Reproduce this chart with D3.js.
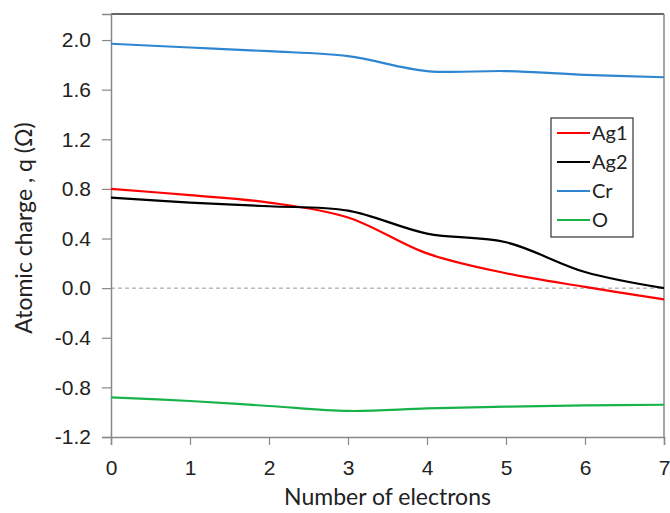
<!DOCTYPE html>
<html>
<head>
<meta charset="utf-8">
<script src="https://cdn.jsdelivr.net/npm/d3@7"></script>
<style>
  body { margin: 0; background: #fff; }
  svg { font-family: Lato, "Open Sans", sans-serif; }
</style>
</head>
<body>
<div id="chart"></div>
<script>
// Data
const electrons = [0, 1, 2, 3, 4, 5, 6, 7];
const ag1 = [0.80, 0.75, 0.69, 0.57, 0.28, 0.12, 0.01, -0.09];
const ag2 = [0.73, 0.69, 0.66, 0.625, 0.44, 0.37, 0.13, 0.0];
const cr = [1.97, 1.94, 1.91, 1.87, 1.75, 1.75, 1.72, 1.70];
const oxy = [-0.88, -0.91, -0.95, -0.99, -0.97, -0.955, -0.945, -0.94];
const seriesNames = ["Ag1", "Ag2", "Cr", "O"];
const seriesColors = ["#ff0000", "#000000", "#2f86d0", "#17b34a"];
const yTicks = [-1.2, -0.8, -0.4, 0.0, 0.4, 0.8, 1.2, 1.6, 2.0];

const width = 670, height = 513;
const margin = { top: 14, right: 6, bottom: 76, left: 111 };
const plotW = width - margin.left - margin.right;
const plotH = height - margin.top - margin.bottom;

const svg = d3.select("#chart").append("svg")
    .attr("width", width)
    .attr("height", height);

const x = d3.scaleLinear().domain([0, 7]).range([margin.left, margin.left + plotW]);
const y = d3.scaleLinear().domain([-1.2, 2.21]).range([margin.top + plotH, margin.top]);

// plot frame (top + right)
svg.append("line")
    .attr("x1", x(0)).attr("x2", x(7))
    .attr("y1", margin.top).attr("y2", margin.top)
    .attr("stroke", "#333").attr("stroke-width", 1.5);
svg.append("line")
    .attr("x1", x(7)).attr("x2", x(7))
    .attr("y1", margin.top).attr("y2", y(-1.2))
    .attr("stroke", "#888").attr("stroke-width", 1.5);

// zero line
svg.append("line")
    .attr("x1", x(0)).attr("x2", x(7))
    .attr("y1", y(0)).attr("y2", y(0))
    .attr("stroke", "#999").attr("stroke-width", 1)
    .attr("stroke-dasharray", "4,3");

// axes
const yAxis = svg.append("g")
    .attr("transform", "translate(" + x(0) + ",0)")
    .call(d3.axisLeft(y).tickValues(yTicks).tickFormat(d => d.toFixed(1)).tickSize(9).tickPadding(11));
const xAxis = svg.append("g")
    .attr("transform", "translate(0," + y(-1.2) + ")")
    .call(d3.axisBottom(x).tickValues(electrons).tickFormat(d3.format("d")).tickSize(8).tickPadding(15));

[yAxis, xAxis].forEach(a => {
    a.select(".domain").attr("stroke", "#888").attr("stroke-width", 1.5);
    a.selectAll(".tick line").attr("stroke", "#888").attr("stroke-width", 1.2);
    a.selectAll(".tick text")
        .attr("fill", "#222")
        .style("font-size", "21px");
});

// series lines
const allSeries = [ag1, ag2, cr, oxy];
const line = d3.line()
    .x((d, i) => x(electrons[i]))
    .y(d => y(d))
    .curve(d3.curveCatmullRom.alpha(0.5));

allSeries.forEach((vals, k) => {
    svg.append("path")
        .datum(vals)
        .attr("fill", "none")
        .attr("stroke", seriesColors[k])
        .attr("stroke-width", 2.2)
        .attr("d", line);
});

// legend
const legend = svg.append("g").attr("transform", "translate(551,118)");
legend.append("rect")
    .attr("width", 82).attr("height", 119)
    .attr("fill", "#fff")
    .attr("stroke", "#333").attr("stroke-width", 1.2);
seriesNames.forEach((name, k) => {
    const ly = 15 + k * 29;
    legend.append("line")
        .attr("x1", 6).attr("x2", 39)
        .attr("y1", ly).attr("y2", ly)
        .attr("stroke", seriesColors[k]).attr("stroke-width", 2.2);
    legend.append("text")
        .attr("x", 41).attr("y", ly)
        .attr("dy", "0.35em")
        .style("font-size", "20px")
        .attr("fill", "#222")
        .text(name);
});

// axis titles
svg.append("text")
    .attr("x", (x(0) + x(7)) / 2)
    .attr("y", 505)
    .attr("text-anchor", "middle")
    .style("font-size", "23px")
    .attr("fill", "#222")
    .text("Number of electrons");

svg.append("text")
    .attr("transform", "translate(32," + 228 + ") rotate(-90)")
    .attr("text-anchor", "middle")
    .style("font-size", "23px")
    .attr("fill", "#222")
    .text("Atomic charge , q (Ω)");
</script>
</body>
</html>
